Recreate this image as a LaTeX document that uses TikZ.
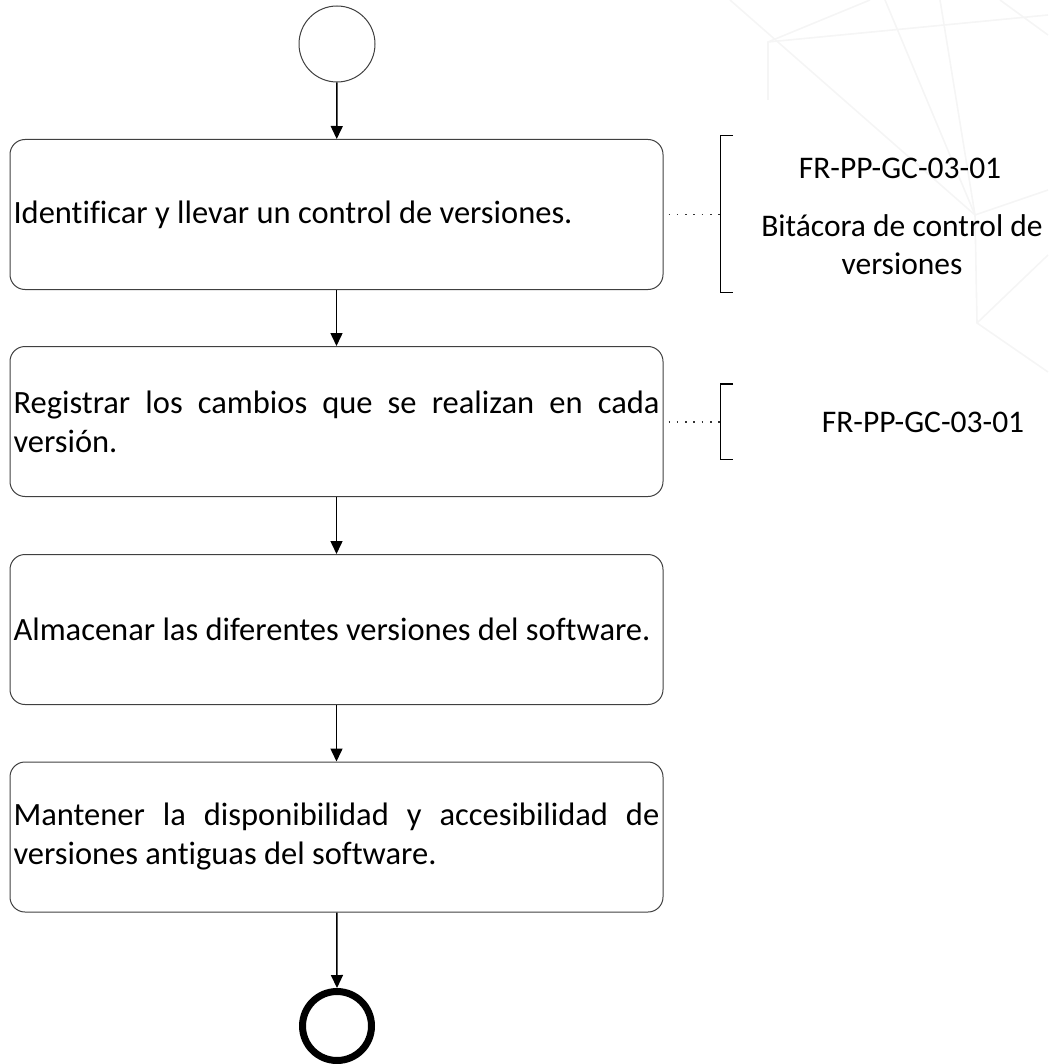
\documentclass[tikz,border=0pt]{standalone}
\usepackage{fontspec}
\setmainfont[Ligatures=NoCommon]{Carlito}
\usetikzlibrary{arrows.meta}
\hyphenpenalty=10000
\exhyphenpenalty=10000
\tolerance=9999
\newcommand\txtfont{\fontsize{32.5}{39}\selectfont}
\newcommand\lblfont{\fontsize{31.5}{38}\selectfont}
\begin{document}
\begin{tikzpicture}[x=1pt,y=-1pt,
  stepbox/.style={draw=black!75, line width=1pt, rounded corners=15pt,
    minimum height=150pt, text width=646pt, inner xsep=3.5pt,
    align=justify, font=\txtfont},
  flow/.style={line width=1.5pt, -{Triangle[length=13pt,width=12pt]}},
  dotline/.style={line width=1.5pt, black!80, dash pattern=on 1.5pt off 6.8pt},
  bracket/.style={line width=1.6pt},
  lbl/.style={font=\lblfont, align=center, inner sep=0pt},
  wm/.style={black!4, line width=1.6pt}]
\useasboundingbox (0,0) rectangle (1048,1064);
% faint background watermark
\draw[wm] (730,0) -- (975,215) -- (1048,190);
\draw[wm] (885,0) -- (975,215);
\draw[wm] (940,0) -- (975,215);
\draw[wm] (768,100) -- (768,42) -- (870,0);
\draw[wm] (768,42) -- (1048,15);
\draw[wm] (975,215) -- (977,323) -- (1048,372);
\draw[wm] (977,323) -- (1048,255);
\draw[wm] (1000,0) -- (1048,35);
% nodes
\node[circle, draw=black!75, line width=1pt, minimum size=76pt, inner sep=0pt] (start) at (337,44) {};
\node[stepbox] (s1) at (336.5,214.5) {Identificar y llevar un control de versiones.};
\node[stepbox] (s2) at (336.5,421.5) {Registrar los cambios que se realizan en cada versión.};
\node[stepbox] (s3) at (336.5,629.5) {Almacenar las diferentes versiones del software.};
\node[stepbox] (s4) at (336.5,837) {Mantener la disponibilidad y accesibilidad de versiones antiguas del software.};
\node[circle, draw=black, line width=7pt, minimum size=69pt, inner sep=0pt] (end) at (337,1026) {};
% flow arrows
\draw[flow] (start) -- (s1);
\draw[flow] (s1) -- (s2);
\draw[flow] (s2) -- (s3);
\draw[flow] (s3) -- (s4);
\draw[flow] (s4) -- (end.north);
% annotation brackets
\coordinate (b1) at (720.5,214.5);
\coordinate (b2) at (720.5,422);
\draw[bracket] (733,135.5) -- (720.5,135.5) -- (720.5,292.5) -- (733,292.5);
\draw[bracket] (733,384) -- (720.5,384) -- (720.5,459.5) -- (733,459.5);
\draw[dotline] ([xshift=5pt]s1.east) -- (b1);
\draw[dotline] ([xshift=5pt]s2.east |- b2) -- (b2);
\node[lbl] (a1) at (900,168) {FR-PP-GC-03-01};
\node[lbl] (a2) at (902,245) {Bitácora de control de\\versiones};
\node[lbl] (a3) at (923,422) {FR-PP-GC-03-01};
\end{tikzpicture}
\end{document}
